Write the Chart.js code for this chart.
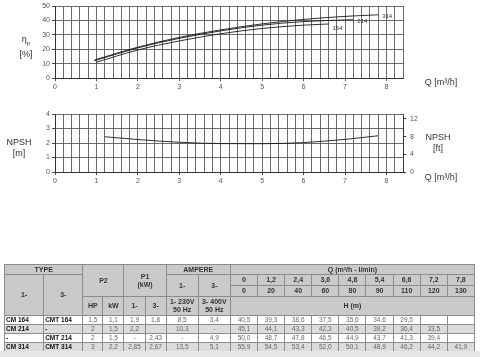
<!DOCTYPE html>
<html><head><meta charset="utf-8">
<script src="https://cdn.jsdelivr.net/npm/chart.js@4/dist/chart.umd.min.js"></script>
<style>
html,body{margin:0;padding:0;background:#fff;width:480px;height:357px;overflow:hidden;font-family:"Liberation Sans",Arial,sans-serif;}
.cv{position:absolute;left:0;}
.lbl{position:absolute;color:#333;font-size:9px;line-height:11px;text-align:center;white-space:nowrap;}
#foot{position:absolute;left:0;top:351px;width:480px;height:6px;background:#e6e6e6;}
table{position:absolute;left:4px;top:264px;width:471px;border-collapse:collapse;table-layout:fixed;font-size:6.5px;opacity:0.999;will-change:opacity;}
th,td{border:1px solid #8c8c8c;padding:0;text-align:center;overflow:hidden;white-space:nowrap;}
th{background:#cacaca;color:#333;font-weight:bold;font-size:7px;line-height:8px;}
td{color:#666;height:8px;line-height:8px;}
td.t{font-weight:bold;color:#111;text-align:left;padding-left:1px;}
tr.g td{background:#dcdcdc;}
tr.w td{background:#fff;}
</style></head>
<body>
<canvas id="c1" class="cv" style="top:0;width:480px;height:95px" width="480" height="95"></canvas>
<canvas id="c2" class="cv" style="top:100px;width:480px;height:90px" width="480" height="90"></canvas>
<div class="lbl" style="left:14px;top:34px;width:24px;">η<sub style="font-size:6px">p</sub><br>[%]</div>
<div class="lbl" style="left:418px;top:77px;width:46px;">Q [m³/h]</div>
<div class="lbl" style="left:4px;top:137px;width:30px;">NPSH<br>[m]</div>
<div class="lbl" style="left:422px;top:132px;width:32px;">NPSH<br>[ft]</div>
<div class="lbl" style="left:418px;top:172px;width:46px;">Q [m³/h]</div>
<table id="tb"></table>
<div id="foot"></div>
<script>
// ---------- data ----------
const q314 = [0.95, 2, 3, 4, 5, 6, 7, 7.8];
const eff314 = [12.5, 21.5, 28.3, 33.5, 37.7, 40.8, 42.9, 44];
const q214 = [0.95, 2, 3, 4, 5, 6, 7.2];
const eff214 = [12, 21, 27.6, 32.8, 36.8, 39.3, 40.6];
const q164 = [1, 2, 3, 4, 5, 6, 6.6];
const eff164 = [11, 19.5, 25.8, 30.8, 34.5, 36.8, 37.6];
const curveNames = ["314", "214", "164"];
const qNpsh = [1.2, 2, 3, 4, 5, 6, 7, 7.8];
const npsh = [2.43, 2.24, 2.05, 1.96, 1.95, 2.03, 2.25, 2.5];
const ftTicks = [0, 4, 8, 12];

const qHeads = ["0", "1,2", "2,4", "3,6", "4,8", "5,4", "6,6", "7,2", "7,8"];
const lmin = ["0", "20", "40", "60", "80", "90", "110", "120", "130"];
const type1 = ["CM 164", "CM 214", "-", "CM 314"];
const type3 = ["CMT 164", "-", "CMT 214", "CMT 314"];
const hp = ["1,5", "2", "2", "3"];
const kw = ["1,1", "1,5", "1,5", "2,2"];
const p1one = ["1,9", "2,2", "-", "2,85"];
const p1three = ["1,8", "", "2,43", "2,67"];
const amp1 = ["8,5", "10,3", "-", "13,5"];
const amp3 = ["3,4", "-", "4,9", "5,1"];
const heads = [
  ["40,5", "39,3", "38,6", "37,5", "35,6", "34,6", "29,5", "", ""],
  ["45,1", "44,1", "43,3", "42,3", "40,5", "39,2", "36,4", "33,5", ""],
  ["50,0", "48,7", "47,8", "46,5", "44,9", "43,7", "41,3", "39,4", ""],
  ["55,9", "54,5", "53,4", "52,0", "50,1", "48,9", "46,2", "44,2", "41,9"]
];

// ---------- charts ----------
const pts = (xs, ys) => xs.map((x, i) => ({x: x, y: ys[i]}));
const isInt = v => Math.abs(v - Math.round(v)) < 1e-6;
const tickFont = {family: "Liberation Sans", size: 7};
const lineDs = (data) => ({data, borderColor: "#1a1a1a", borderWidth: 0.9, pointRadius: 0,
  cubicInterpolationMode: "monotone", fill: false});

const xScale = (h) => ({
  type: "linear", min: 0, max: 8.4,
  ticks: {stepSize: 0.2, autoSkip: false, maxRotation: 0, color: "#555", font: tickFont, padding: 2,
    callback: v => isInt(v) ? String(Math.round(v)) : ""},
  grid: {color: "#5a5a5a", lineWidth: 0.9, tickLength: 3,
    tickColor: c => (c.tick && isInt(c.tick.value)) ? "#333" : "rgba(0,0,0,0)"},
  border: {color: "#333", width: 1},
  afterFit: s => { s.height = h; }
});

const labelPlugin = {
  id: "curveLabels",
  afterDatasetsDraw(chart) {
    const ctx = chart.ctx, xs = chart.scales.x, ys = chart.scales.y;
    const offs = [2, 2, 4.5];
    ctx.save();
    ctx.font = "6px 'Liberation Sans'";
    ctx.fillStyle = "#333";
    ctx.textBaseline = "middle";
    chart.data.datasets.forEach((ds, i) => {
      const p = ds.data[ds.data.length - 1];
      ctx.fillText(curveNames[i], xs.getPixelForValue(p.x) + 4, ys.getPixelForValue(p.y) + offs[i]);
    });
    ctx.restore();
  }
};

new Chart(document.getElementById("c1"), {
  type: "line",
  data: {datasets: [lineDs(pts(q314, eff314)), lineDs(pts(q214, eff214)), lineDs(pts(q164, eff164))]},
  options: {
    responsive: false, animation: false, events: [],
    layout: {padding: {left: 0, right: 77, top: 6, bottom: 0}},
    plugins: {legend: {display: false}, tooltip: {enabled: false}},
    scales: {
      x: xScale(17),
      y: {min: 0, max: 50,
        ticks: {stepSize: 5, color: "#555", font: tickFont, padding: 2,
          callback: v => (v % 10 === 0) ? String(v) : ""},
        grid: {color: "#5a5a5a", lineWidth: 0.9, tickLength: 3,
          tickColor: c => (c.tick && c.tick.value % 10 === 0) ? "#333" : "rgba(0,0,0,0)"},
        border: {color: "#333", width: 1},
        afterFit: s => { s.width = 55; }}
    }
  },
  plugins: [labelPlugin]
});

new Chart(document.getElementById("c2"), {
  type: "line",
  data: {datasets: [lineDs(pts(qNpsh, npsh))]},
  options: {
    responsive: false, animation: false, events: [],
    layout: {padding: {left: 0, right: 0, top: 14, bottom: 0}},
    plugins: {legend: {display: false}, tooltip: {enabled: false}},
    scales: {
      x: xScale(18),
      y: {min: 0, max: 4, position: "left",
        ticks: {stepSize: 0.5, color: "#555", font: tickFont, padding: 2,
          callback: v => isInt(v) ? String(Math.round(v)) : ""},
        grid: {color: "#5a5a5a", lineWidth: 0.9, tickLength: 3,
          tickColor: c => (c.tick && isInt(c.tick.value)) ? "#333" : "rgba(0,0,0,0)"},
        border: {color: "#333", width: 1},
        afterFit: s => { s.width = 55; }},
      y2: {min: 0, max: 4 * 3.2808, position: "right",
        afterBuildTicks: a => { a.ticks = ftTicks.map(v => ({value: v})); },
        ticks: {color: "#555", font: tickFont, padding: 4, callback: v => String(v)},
        grid: {drawOnChartArea: false, tickLength: 3, color: "#333"},
        border: {color: "#333", width: 1},
        afterFit: s => { s.width = 77; }}
    }
  }
});

// ---------- table ----------
const colW = [39, 39, 20, 21, 21, 21, 32, 32].concat(Array(9).fill(27));
let h = "<colgroup>" + colW.map(w => `<col style="width:${w}px">`).join("") + "</colgroup>";
h += `<tr style="height:10px"><th colspan="2">TYPE</th><th colspan="2" rowspan="3">P2</th><th colspan="2" rowspan="3">P1<br>(kW)</th><th colspan="2">AMPERE</th><th colspan="9">Q (m³/h - l/min)</th></tr>`;
h += `<tr style="height:11px"><th rowspan="3">1-</th><th rowspan="3">3-</th><th rowspan="2">1-</th><th rowspan="2">3-</th>` + qHeads.map(v => `<th>${v}</th>`).join("") + `</tr>`;
h += `<tr style="height:11px">` + lmin.map(v => `<th>${v}</th>`).join("") + `</tr>`;
h += `<tr style="height:19px"><th>HP</th><th>kW</th><th>1-</th><th>3-</th><th>1- 230V<br>50 Hz</th><th>3- 400V<br>50 Hz</th><th colspan="9">H (m)</th></tr>`;
for (let i = 0; i < type1.length; i++) {
  h += `<tr class="${i % 2 ? "g" : "w"}"><td class="t">${type1[i]}</td><td class="t">${type3[i]}</td><td>${hp[i]}</td><td>${kw[i]}</td><td>${p1one[i]}</td><td>${p1three[i]}</td><td>${amp1[i]}</td><td>${amp3[i]}</td>` +
    heads[i].map(v => `<td>${v}</td>`).join("") + `</tr>`;
}
document.getElementById("tb").innerHTML = h;
</script>
</body></html>
